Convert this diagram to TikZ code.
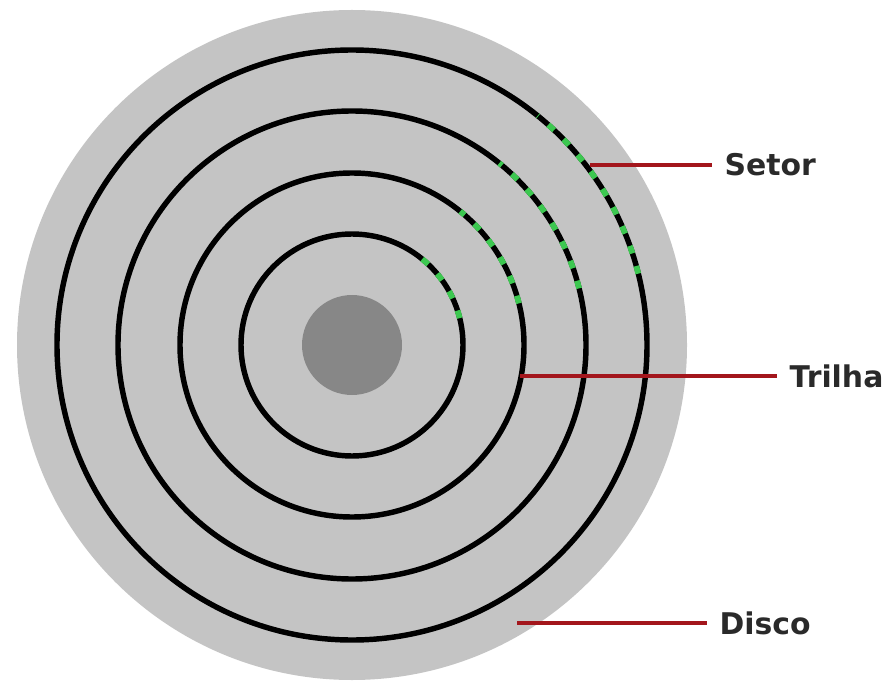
\documentclass[tikz,border=0pt]{standalone}
\usepackage{fontspec}
\setmainfont{DejaVu Sans}
\usepackage{tikz}
\usetikzlibrary{calc}
\definecolor{disco}{HTML}{C4C4C4}
\definecolor{eixo}{HTML}{878787}
\definecolor{setorv}{HTML}{3CC850}
\definecolor{guiav}{HTML}{A3161C}
\definecolor{texto}{HTML}{2A2A2A}
\tikzset{
  prato/.style={fill=disco,draw=none},
  cubo/.style={fill=eixo,draw=none},
  trilha/.style={black,line width=3.1pt},
  setor/.style={setorv,line width=3.3pt,dash pattern=on 4.5pt off 7.5pt},
  guia/.style={guiav,line width=2.1pt},
  rotulo/.style={texto,anchor=west,inner sep=7pt,font=\fontsize{17}{20}\selectfont\bfseries},
}

\begin{document}
\begin{tikzpicture}[x=0.02cm,y=0.02cm]
  \useasboundingbox (0,0) rectangle (888,680);
  \coordinate (C) at (352,335);
  \fill[prato] (C) circle (335);
  \fill[cubo] (C) circle (50);
  \foreach \r in {111,172,234,295}{
    \draw[trilha] (C) circle (\r);
    \draw[setor] ($(C)+(14:\r)$) arc[start angle=14,end angle=51,radius=\r];
  }
  \node[rotulo] (setor) at (712,515) {Setor};
  \node[rotulo] (trilha) at (777,304) {Trilha};
  \node[rotulo] (disco) at (707,57) {Disco};
  \coordinate (setor-p) at (590,515);
  \coordinate (trilha-p) at (520,304);
  \coordinate (disco-p) at (517,57);
  \draw[guia] (setor-p) -- (setor.west);
  \draw[guia] (trilha-p) -- (trilha.west);
  \draw[guia] (disco-p) -- (disco.west);
\end{tikzpicture}
\end{document}
